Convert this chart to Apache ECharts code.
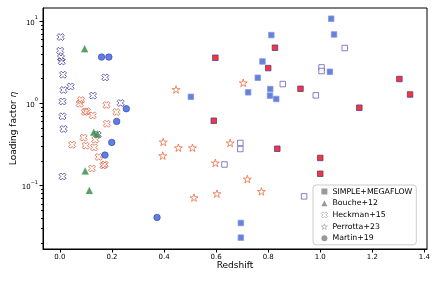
<!DOCTYPE html>
<html><head><meta charset="utf-8">
<script src="https://cdn.jsdelivr.net/npm/echarts@6/dist/echarts.min.js"></script>
<style>html,body{margin:0;padding:0;background:#fff}#c{width:436px;height:281px}</style>
</head><body><div id="c"></div>
<script>
// [redshift, loading factor]
const simpleFilled = [[0.503,1.19],[0.723,1.35],[0.760,2.03],[0.778,3.20],[0.812,6.70],[0.808,1.48],[0.807,1.23],[0.831,1.12],[1.042,10.6],[1.053,6.82],[1.037,2.40],[0.695,0.0348],[0.695,0.0231]];
const simpleRed = [[0.597,3.55],[0.591,0.609],[0.826,4.70],[0.800,2.66],[0.924,1.49],[1.150,0.877],[1.304,1.96],[1.345,1.27],[0.835,0.278],[1.0,0.215],[1.0,0.138]];
const simpleOpen = [[0.856,1.70],[1.094,4.66],[1.005,2.71],[1.005,2.45],[0.983,1.24],[0.693,0.327],[0.693,0.276],[0.632,0.179],[0.938,0.0733]];
const bouche = [[0.095,4.57],[0.130,0.44],[0.144,0.42],[0.097,0.149],[0.113,0.0867]];
const heckmanBlue = [[0.003,6.34],[0.001,4.32],[0.004,3.55],[0.007,3.20],[0.012,2.21],[0.014,1.44],[0.041,1.59],[0.010,1.045],[0.010,0.69],[0.014,0.483],[0.174,2.05],[0.127,1.23],[0.233,1.0],[0.145,0.412],[0.010,0.128]];
const heckmanRed = [[0.081,1.087],[0.076,0.98],[0.096,0.778],[0.103,0.795],[0.126,0.707],[0.179,0.946],[0.217,0.778],[0.180,0.56],[0.091,0.379],[0.047,0.311],[0.099,0.303],[0.136,0.358],[0.131,0.289],[0.149,0.221],[0.123,0.160],[0.167,0.174],[0.172,0.179]];
const perrotta = [[0.446,1.46],[0.704,1.76],[0.397,0.336],[0.455,0.286],[0.509,0.286],[0.395,0.229],[0.654,0.327],[0.597,0.187],[0.720,0.119],[0.774,0.0843],[0.603,0.079],[0.515,0.0707]];
const martin = [[0.160,3.62],[0.188,3.62],[0.255,0.853],[0.218,0.598],[0.199,0.332],[0.173,0.233],[0.373,0.0407]];

const xTickValues = [0,0.2,0.4,0.6,0.8,1.0,1.2,1.4];
const yMajorTicks = [0.1,1,10];
const yMinorTicks = [0.02,0.03,0.04,0.05,0.06,0.07,0.08,0.09,0.2,0.3,0.4,0.5,0.6,0.7,0.8,0.9,2,3,4,5,6,7,8,9];
const legendNames = ['SIMPLE+MEGAFLOW','Bouche+12','Heckman+15','Perrotta+23','Martin+19'];

const X_MIN = -0.065, X_MAX = 1.41, Y_MIN = 0.0168, Y_MAX = 14.3;
const FONT = 'DejaVu Sans';
const xPath = 'path://M75 0 L50 25 L25 0 L0 25 L25 50 L0 75 L25 100 L50 75 L75 100 L100 75 L75 50 L100 25 Z';
const starPath = 'path://M50 0 L61.2 34.5 L97.6 34.5 L68.2 55.9 L79.4 90.5 L50 69.1 L20.6 90.5 L31.8 55.9 L2.4 34.5 L38.8 34.5 Z';

function tickSeries(data, kind, len) {
  return {
    type: 'custom', silent: true, clip: false, z: 10, data: data,
    renderItem: function (params, api) {
      const cs = params.coordSys;
      if (kind === 'x') {
        const x = Math.round(api.coord([api.value(0), Y_MIN])[0]) + 0.5;
        const y0 = cs.y + cs.height;
        return {type: 'line', shape: {x1: x, y1: y0, x2: x, y2: y0 + len}, style: {stroke: '#000', lineWidth: 1}};
      } else {
        const y = Math.round(api.coord([0, api.value(1)])[1]) + 0.5;
        const x0 = cs.x;
        return {type: 'line', shape: {x1: x0 - len, y1: y, x2: x0, y2: y}, style: {stroke: '#000', lineWidth: 1}};
      }
    }
  };
}

const chart = echarts.init(document.getElementById('c'), null, {renderer: 'canvas'});
chart.setOption({
  animation: false,
  backgroundColor: '#fff',
  textStyle: {fontFamily: FONT},
  grid: {left: 43, right: 9, top: 8, bottom: 32, containLabel: false, outerBoundsMode: 'none',
    show: true, borderColor: '#000', borderWidth: 1, backgroundColor: 'transparent'},
  xAxis: {
    type: 'value', min: X_MIN, max: X_MAX, splitNumber: 7,
    name: 'Redshift', nameLocation: 'middle', nameGap: 12, nameMoveOverlap: false,
    nameTextStyle: {fontFamily: FONT, fontSize: 9, color: '#000'},
    axisLine: {show: true, onZero: false, lineStyle: {color: '#000', width: 1}},
    axisTick: {show: false}, splitLine: {show: false},
    axisLabel: {
      fontFamily: FONT, fontSize: 7, color: '#000', margin: 5,
      showMinLabel: true, showMaxLabel: true,
      formatter: function (v) {
        for (const t of xTickValues) if (Math.abs(v - t) < 1e-6) return t.toFixed(1);
        return '';
      }
    }
  },
  yAxis: {
    type: 'log', logBase: 10, min: Y_MIN, max: Y_MAX,
    name: 'Loading factor {i|η}', nameLocation: 'middle', nameGap: 25, nameMoveOverlap: false,
    nameTextStyle: {fontFamily: FONT, fontSize: 9, color: '#000',
      rich: {i: {fontFamily: FONT, fontSize: 9, fontStyle: 'italic', color: '#000'}}},
    axisLine: {show: true, onZero: false, lineStyle: {color: '#000', width: 1}},
    axisTick: {show: false}, splitLine: {show: false}, minorTick: {show: false},
    axisLabel: {
      fontFamily: FONT, color: '#000', margin: 5,
      formatter: function (v) {
        const l = Math.log10(v), k = Math.round(l);
        if (Math.abs(l - k) > 1e-6) return '';
        return '{b|10}{s|' + (k < 0 ? '\u2212' + (-k) : k) + '}';
      },
      rich: {
        b: {fontFamily: FONT, fontSize: 7, lineHeight: 11, verticalAlign: 'bottom', color: '#000'},
        s: {fontFamily: FONT, fontSize: 5, lineHeight: 11, verticalAlign: 'top', color: '#000'}
      }
    }
  },
  legend: {
    orient: 'vertical', left: 313, top: 185,
    padding: [2, 4, 2, 8], itemGap: 2.7, itemWidth: 6, itemHeight: 6, itemTextGap: 12,
    backgroundColor: 'rgba(255,255,255,0.85)', borderColor: '#cccccc', borderWidth: 1, borderRadius: 3,
    textStyle: {fontFamily: FONT, fontSize: 7.8, color: '#000', lineHeight: 9},
    selectedMode: false,
    data: [
      {name: legendNames[0], icon: 'rect', itemStyle: {color: '#808080', borderWidth: 0}},
      {name: legendNames[1], icon: 'triangle', itemStyle: {color: '#808080', borderWidth: 0}},
      {name: legendNames[2], icon: xPath, itemStyle: {color: 'rgba(255,255,255,0)', borderColor: '#9a9a9a', borderWidth: 0.8}},
      {name: legendNames[3], icon: starPath, itemStyle: {color: 'rgba(255,255,255,0)', borderColor: '#9a9a9a', borderWidth: 0.8}},
      {name: legendNames[4], icon: 'circle', itemStyle: {color: '#808080', borderWidth: 0}}
    ]
  },
  series: [
    {name: legendNames[2], type: 'scatter', data: heckmanBlue, symbol: xPath, symbolSize: 7, symbolKeepAspect: true,
      itemStyle: {color: 'rgba(255,255,255,0)', borderColor: '#3c3c9e', borderWidth: 1}},
    {name: legendNames[2], type: 'scatter', data: heckmanRed, symbol: xPath, symbolSize: 7, symbolKeepAspect: true,
      itemStyle: {color: 'rgba(255,255,255,0)', borderColor: '#e25a3a', borderWidth: 1}},
    {name: legendNames[3], type: 'scatter', data: perrotta, symbol: starPath, symbolSize: 8, symbolKeepAspect: true,
      itemStyle: {color: 'rgba(255,255,255,0)', borderColor: '#e8602c', borderWidth: 0.9}},
    {name: legendNames[1], type: 'scatter', data: bouche, symbol: 'triangle', symbolSize: 7,
      itemStyle: {color: '#2a8a3c', borderColor: 'rgba(120,170,130,0.6)', borderWidth: 0.6}},
    {name: legendNames[4], type: 'scatter', data: martin, symbol: 'circle', symbolSize: 6.5,
      itemStyle: {color: '#3b5fd8', borderColor: '#2a46b4', borderWidth: 0.8}},
    {name: legendNames[0], type: 'scatter', data: simpleOpen, symbol: 'rect', symbolSize: 5.5,
      itemStyle: {color: '#ffffff', borderColor: '#6a62b8', borderWidth: 1}},
    {name: legendNames[0], type: 'scatter', data: simpleFilled, symbol: 'rect', symbolSize: 5.5,
      itemStyle: {color: '#3d62d8', borderColor: '#8797dc', borderWidth: 1}},
    {name: legendNames[0], type: 'scatter', data: simpleRed, symbol: 'rect', symbolSize: 5.5,
      itemStyle: {color: '#ff0000', borderColor: '#4a3f9a', borderWidth: 1}},
    tickSeries(xTickValues.map(v => [v, Y_MIN]), 'x', 3.5),
    tickSeries(yMajorTicks.map(v => [0, v]), 'y', 3.5),
    tickSeries(yMinorTicks.map(v => [0, v]), 'y', 2)
  ]
});
</script></body></html>
